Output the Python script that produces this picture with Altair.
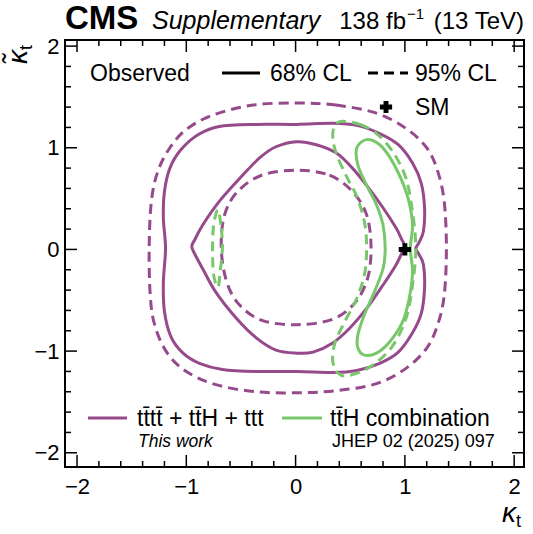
import altair as alt
import pandas as pd

# ---------------------------------------------------------------------------
# Plot geometry (plot area in px) and axis ranges
# ---------------------------------------------------------------------------
W, H = 459, 427
X_DOMAIN = [-2.11, 2.09]
Y_DOMAIN = [-2.14, 2.06]

PURPLE = "#964a8b"
GREEN = "#78c86b"
FONT = "Liberation Sans"

# ---------------------------------------------------------------------------
# Contours in the (kappa_t, kappa_t~) plane
# ---------------------------------------------------------------------------
# tttt + ttH + ttt, 68% CL, outer boundary
comb68_outer_kt = [0.01, 0.34, 0.56, 0.77, 0.94, 1.07, 1.15, 1.18, 1.17, 1.13, 1.10, 1.13,
                   1.17, 1.18, 1.15, 1.07, 0.94, 0.77, 0.56, 0.34, 0.01, -0.36, -0.67, -0.88,
                   -1.03, -1.14, -1.20, -1.21, -1.19, -1.21, -1.20, -1.15, -1.05, -0.89, -0.70, -0.36]
comb68_outer_ktt = [1.23, 1.24, 1.22, 1.14, 1.03, 0.85, 0.65, 0.41, 0.18, 0.07, 0.01, -0.05,
                    -0.15, -0.38, -0.63, -0.82, -1.01, -1.12, -1.19, -1.21, -1.20, -1.20, -1.18, -1.12,
                    -1.02, -0.86, -0.61, -0.32, 0.01, 0.31, 0.57, 0.80, 0.98, 1.13, 1.21, 1.23]

# tttt + ttH + ttt, 68% CL, inner boundary
comb68_inner_kt = [-0.95, -0.92, -0.85, -0.70, -0.51, -0.33, -0.18, 0.01, 0.19, 0.37, 0.52, 0.65,
                   0.80, 0.92, 0.97, 1.00, 0.97, 0.92, 0.80, 0.65, 0.49, 0.34, 0.16, 0.01,
                   -0.18, -0.36, -0.54, -0.73, -0.85, -0.92]
comb68_inner_ktt = [0.03, 0.10, 0.24, 0.47, 0.70, 0.90, 1.01, 1.06, 1.03, 0.95, 0.80, 0.63,
                    0.41, 0.21, 0.10, 0.03, -0.04, -0.15, -0.35, -0.58, -0.78, -0.92, -1.01, -1.02,
                    -0.99, -0.87, -0.68, -0.42, -0.19, -0.05]

# tttt + ttH + ttt, 95% CL, outer boundary
comb95_outer_kt = [0.01, 0.37, 0.74, 1.01, 1.20, 1.30, 1.36, 1.38, 1.36, 1.30, 1.20, 1.01,
                   0.74, 0.37, 0.01, -0.36, -0.73, -1.00, -1.18, -1.29, -1.33, -1.34, -1.32, -1.26,
                   -1.15, -1.00, -0.76, -0.39]
comb95_outer_ktt = [1.44, 1.42, 1.34, 1.19, 1.00, 0.77, 0.47, 0.01, -0.45, -0.74, -0.97, -1.17,
                    -1.32, -1.39, -1.41, -1.40, -1.33, -1.20, -1.01, -0.74, -0.45, 0.01, 0.47, 0.77,
                    1.00, 1.18, 1.32, 1.42]

# tttt + ttH + ttt, 95% CL, inner boundary
comb95_inner_kt = [0.01, 0.31, 0.52, 0.65, 0.69, 0.66, 0.54, 0.33, 0.01, -0.30, -0.51, -0.63,
                   -0.68, -0.65, -0.53, -0.31]
comb95_inner_ktt = [0.78, 0.73, 0.57, 0.34, 0.03, -0.28, -0.53, -0.69, -0.74, -0.70, -0.55, -0.32,
                    0.01, 0.34, 0.57, 0.73]

# ttH combination, 68% CL
tth68_kt = [0.65, 0.77, 0.86, 0.95, 1.03, 1.07, 1.05, 1.07, 1.04, 0.98, 0.86, 0.74,
            0.63, 0.57, 0.57, 0.63, 0.72, 0.80, 0.82, 0.80, 0.74, 0.65, 0.57, 0.56]
tth68_ktt = [1.08, 1.03, 0.91, 0.73, 0.50, 0.24, 0.01, -0.22, -0.48, -0.71, -0.91, -1.02,
             -1.04, -0.97, -0.84, -0.64, -0.42, -0.19, 0.01, 0.24, 0.44, 0.63, 0.83, 1.00]

# ttH combination, 95% CL (right crescent and small left island)
tth95_right_kt = [0.43, 0.59, 0.74, 0.89, 1.01, 1.07, 1.10, 1.07, 1.01, 0.88, 0.69, 0.49,
                  0.39, 0.34, 0.36, 0.45, 0.56, 0.63, 0.65, 0.63, 0.56, 0.46, 0.37, 0.34, 0.36]
tth95_right_ktt = [1.26, 1.23, 1.14, 0.96, 0.70, 0.37, 0.01, -0.35, -0.68, -0.96, -1.15, -1.24,
                   -1.22, -1.10, -0.92, -0.71, -0.48, -0.25, 0.01, 0.27, 0.52, 0.73, 0.95, 1.11, 1.22]
tth95_left_kt = [-0.71, -0.68, -0.67, -0.69, -0.71, -0.75, -0.76, -0.75]
tth95_left_ktt = [0.39, 0.21, 0.01, -0.22, -0.37, -0.25, 0.01, 0.24]

# Standard Model expectation
sm_kt = [1.0]
sm_ktt = [0.0]

# Axis ticks
major_ticks = [-2, -1, 0, 1, 2]
minor_ticks = [-1.8, -1.6, -1.4, -1.2, -0.8, -0.6, -0.4, -0.2,
               0.2, 0.4, 0.6, 0.8, 1.2, 1.4, 1.6, 1.8]


def contour_frame(pieces):
    rows = []
    for name, kts, ktts in pieces:
        for i, (a, b) in enumerate(zip(kts, ktts)):
            rows.append({"piece": name, "idx": i, "kt": a, "ktt": b})
    return pd.DataFrame(rows)


xs = alt.Scale(domain=X_DOMAIN, nice=False, zero=False)
ys = alt.Scale(domain=Y_DOMAIN, nice=False, zero=False)
x_axis = alt.Axis(values=major_ticks, format="d", ticks=False, domain=False, grid=False,
                  labelFont=FONT, labelFontSize=22, labelColor="black", labelPadding=9,
                  labelFlush=False, title=None)
y_axis = alt.Axis(values=major_ticks, format="d", ticks=False, domain=False, grid=False,
                  labelFont=FONT, labelFontSize=22, labelColor="black", labelPadding=6,
                  title=None)


def X(field="kt"):
    return alt.X(f"{field}:Q", scale=xs, axis=x_axis)


def Y(field="ktt"):
    return alt.Y(f"{field}:Q", scale=ys, axis=y_axis)


def contour_layer(pieces, color, dash):
    mark = dict(interpolate="cardinal-closed", strokeWidth=3, color=color, strokeCap="butt")
    if dash:
        mark["strokeDash"] = dash
    return alt.Chart(contour_frame(pieces)).mark_line(**mark).encode(
        x=X(), y=Y(), detail="piece:N", order="idx:Q"
    )


DASH = [10, 6]

purple_68 = contour_layer([("o", comb68_outer_kt, comb68_outer_ktt),
                           ("i", comb68_inner_kt, comb68_inner_ktt)], PURPLE, None)
purple_95 = contour_layer([("o", comb95_outer_kt, comb95_outer_ktt),
                           ("i", comb95_inner_kt, comb95_inner_ktt)], PURPLE, DASH)
green_68 = contour_layer([("r", tth68_kt, tth68_ktt)], GREEN, None)
green_95 = contour_layer([("r", tth95_right_kt, tth95_right_ktt),
                          ("l", tth95_left_kt, tth95_left_ktt)], GREEN, DASH)

sm_point = alt.Chart(pd.DataFrame({"kt": sm_kt, "ktt": sm_ktt})).mark_point(
    shape="cross", filled=True, color="black", size=150, opacity=1
).encode(x=X(), y=Y())


# Inward-pointing ticks on all four sides of the frame
def tick_layers(values, length):
    dx = pd.DataFrame({"kt": values})
    dy = pd.DataFrame({"ktt": values})
    rule = dict(color="black", strokeWidth=1.5)
    return [
        alt.Chart(dx).mark_rule(**rule).encode(x=X(), y=alt.value(H), y2=alt.value(H - length)),
        alt.Chart(dx).mark_rule(**rule).encode(x=X(), y=alt.value(0), y2=alt.value(length)),
        alt.Chart(dy).mark_rule(**rule).encode(y=Y(), x=alt.value(0), x2=alt.value(length)),
        alt.Chart(dy).mark_rule(**rule).encode(y=Y(), x=alt.value(W), x2=alt.value(W - length)),
    ]


def label(text, x, y, size, align="left", baseline="middle", style=None, weight=None, angle=None):
    props = dict(font=FONT, fontSize=size, align=align, baseline=baseline, color="black")
    if style:
        props["fontStyle"] = style
    if weight:
        props["fontWeight"] = weight
    if angle is not None:
        props["angle"] = angle
    return alt.Chart(pd.DataFrame({"t": [text]})).mark_text(**props).encode(
        text="t:N", x=alt.value(x), y=alt.value(y)
    )


def seg(x1, x2, y, color, dash=None):
    props = dict(color=color, strokeWidth=3, strokeCap="butt")
    if dash:
        props["strokeDash"] = dash
    return alt.Chart(pd.DataFrame({"a": [0]})).mark_rule(**props).encode(
        x=alt.value(x1), x2=alt.value(x2), y=alt.value(y)
    )


decor = [
    # header
    label("CMS", 0, -11, 33, baseline="alphabetic", weight="bold"),
    label("Supplementary", 87, -11, 25, baseline="alphabetic", style="italic"),
    label("138 fb", 341, -11, 24, align="right", baseline="alphabetic"),
    label("\u22121", 342, -21, 15, align="left", baseline="alphabetic"),
    label("(13 TeV)", W, -11, 24, align="right", baseline="alphabetic"),
    # axis titles
    label("\u03ba", 451, 482, 28, align="right", baseline="alphabetic", style="italic"),
    label("t", 451, 487, 18, align="left", baseline="alphabetic"),
    label("\u03ba\u0303", -38, 10, 28, align="right", baseline="alphabetic", style="italic", angle=270),
    label("t", -33, 10, 18, align="left", baseline="alphabetic", angle=270),
    # upper legend
    label("Observed", 25, 34, 23),
    seg(157, 195, 33, "black"),
    label("68% CL", 205, 34, 23),
    seg(303, 343, 33, "black", DASH),
    label("95% CL", 350, 34, 23),
    alt.Chart(pd.DataFrame({"a": [0]})).mark_point(
        shape="cross", filled=True, color="black", size=150, opacity=1
    ).encode(x=alt.value(321), y=alt.value(67)),
    label("SM", 350, 68, 23),
    # lower legend
    seg(23, 62, 378, PURPLE),
    label("tt\u0304tt\u0304 + tt\u0304H + ttt", 72, 379, 23),
    seg(217, 257, 378, GREEN),
    label("tt\u0304H combination", 265, 379, 23),
    label("This work", 73, 402, 17.5, style="italic"),
    label("JHEP 02 (2025) 097", 267, 402, 18),
]

layers = ([purple_68, purple_95, green_68, green_95, sm_point]
          + tick_layers(major_ticks, 12) + tick_layers(minor_ticks, 6) + decor)

chart = alt.layer(*layers).properties(
    width=W,
    height=H,
    autosize=alt.AutoSizeParams(type="none"),
    padding={"left": 65, "top": 40, "right": 9, "bottom": 67},
    background="white",
).configure_view(stroke="black", strokeWidth=2)

chart.save("out.html", embed_options={"renderer": "svg", "actions": False})
